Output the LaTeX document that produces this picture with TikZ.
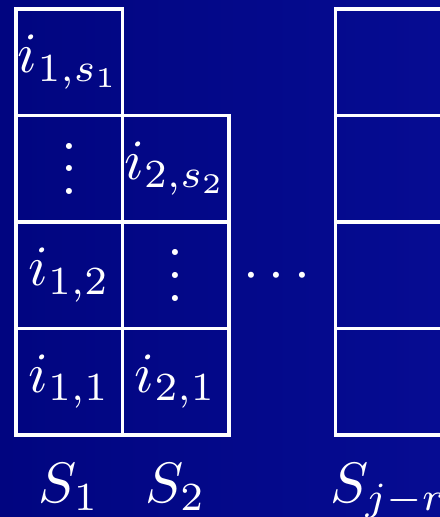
\documentclass[tikz,border=0pt]{standalone}
\usepackage{tikz}
\usetikzlibrary{positioning}
\usepackage{xcolor}
\definecolor{bgleft}{RGB}{1,5,128}
\definecolor{bgright}{RGB}{6,12,146}
\newcommand{\vdotsc}{\vbox{\baselineskip4pt\lineskiplimit0pt\hbox{.}\hbox{.}\hbox{.}}}

\begin{document}
\begin{tikzpicture}[x=0.657cm,y=0.657cm,
    cell/.style={draw=white,line width=0.6pt,minimum size=0.657cm,inner sep=0pt,text=white},
    colname/.style={anchor=base,text=white,inner sep=0pt}]
  \useasboundingbox (-0.15,-0.77) rectangle (3.981,4.085);
  \clip (-0.15,-0.77) rectangle (3.981,4.085);
  \shade[left color=bgleft,right color=bgright] (-0.15,-0.77) rectangle (3.981,4.085);
  \foreach \x/\y/\lbl/\nm in {
    0/0/{$i_{1,1}$}/a11, 0/1/{$i_{1,2}$}/a12, 0/2/{\vdotsc}/a13, 0/3/{$i_{1,s_1}$}/a14,
    1/0/{$i_{2,1}$}/a21, 1/1/{\vdotsc}/a22, 1/2/{$i_{2,s_2}$}/a23,
    3/0/{}/c1, 3/1/{}/c2, 3/2/{}/c3, 3/3/{}/c4
  }{
    \node[cell] (\nm) at (\x+0.5,\y+0.5) {\lbl};
  }
  \node[anchor=base,text=white] (dots) at (2.45,1.366) {$\cdots$};
  \foreach \x/\lbl/\nm in {0.5/S_1/s1, 1.5/S_2/s2, 3.5/S_{j-r}/sjr}{
    \node[colname] (\nm) at (\x,-0.63) {$\lbl$};
  }
\end{tikzpicture}
\end{document}
